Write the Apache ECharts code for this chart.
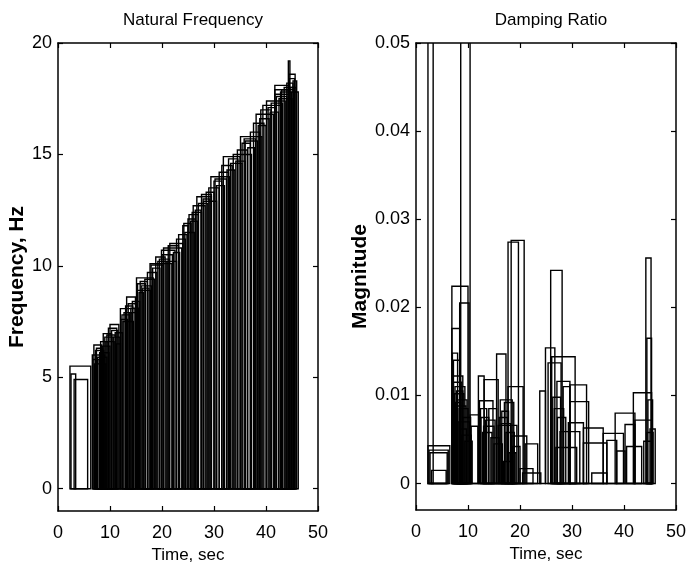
<!DOCTYPE html>
<html>
<head>
<meta charset="utf-8">
<script src="https://cdn.jsdelivr.net/npm/echarts@6/dist/echarts.min.js"></script>
<style>
  html, body { margin: 0; padding: 0; background: #fff; }
  #chart { width: 697px; height: 569px; }
</style>
</head>
<body>
<div id="chart"></div>
<script>
// Natural frequency boxes: start time, end time, frequency (Hz)
var freqStart = [2.3, 2.5, 3.1, 6.6, 6.9, 7.2, 7.6, 8.0, 8.7, 9.0, 9.4, 10.0, 10.3, 11.0,
    12.0, 12.3, 12.7, 13.2, 13.5, 14.0, 15.1, 15.3, 15.8, 16.3, 17.7, 17.9, 18.8, 19.2,
    19.9, 20.3, 21.5, 22.2, 24.0, 24.4, 25.2, 25.5, 26.0, 26.4, 26.7, 27.6, 28.0, 29.4,
    30.0, 30.5, 31.8, 32.5, 33.7, 34.2, 35.1, 35.8, 36.5, 38.1, 38.5, 39.4, 40.1, 40.8,
    41.7, 41.7, 41.7, 42.5, 43.0, 44.3, 44.4, 44.6, 44.9, 45.2,
    6.7, 7.0, 7.4, 8.2, 8.5, 9.2, 9.7, 10.6, 11.2, 12.1, 12.5, 13.0, 13.8, 14.3,
    15.2, 15.6, 16.0, 16.7, 17.2, 18.2, 19.5, 20.0, 20.8, 21.2, 22.8, 23.2, 24.2, 25.0,
    25.8, 27.0, 27.9, 28.5, 29.0, 30.2, 31.0, 31.5, 32.8, 33.2, 34.5, 35.4, 36.0, 37.0,
    37.6, 38.8, 39.0, 40.4, 41.0, 42.0, 42.8, 43.5, 44.0, 44.5];
var freqEnd = [6.3, 3.4, 5.7, 9.0, 8.4, 8.8, 9.4, 9.8, 10.3, 10.6, 11.0, 11.7, 11.5, 12.4,
    14.8, 13.8, 14.2, 14.9, 15.3, 15.5, 18.3, 16.8, 17.2, 17.5, 21.9, 20.2, 20.6, 21.0,
    22.5, 23.8, 24.0, 23.4, 25.0, 26.2, 27.0, 26.8, 28.3, 27.5, 29.5, 29.5, 30.5, 33.0,
    31.5, 32.0, 35.0, 34.0, 37.2, 36.0, 39.2, 38.0, 37.8, 41.4, 40.0, 43.0, 43.7, 42.4,
    44.3, 44.3, 44.3, 45.0, 45.3, 44.6, 45.6, 45.8, 46.2, 45.9,
    7.9, 9.2, 8.6, 9.6, 10.0, 10.8, 11.3, 11.9, 12.0, 13.4, 14.5, 14.4, 15.0, 15.7,
    17.8, 16.4, 18.0, 18.6, 19.0, 19.6, 21.4, 22.0, 22.8, 23.2, 24.5, 24.8, 25.6, 26.4,
    27.6, 28.8, 29.2, 30.0, 31.0, 32.4, 32.8, 33.5, 34.6, 35.4, 36.4, 37.0, 38.4, 38.8,
    39.6, 40.6, 41.0, 42.0, 43.2, 44.0, 44.8, 45.4, 45.2, 45.5];
var freqValue = [5.5, 5.15, 4.9, 6.0, 6.45, 6.2, 5.9, 6.1, 6.96, 6.8, 6.9, 7.37, 7.1, 7.0,
    8.08, 7.8, 7.9, 8.6, 8.3, 8.1, 9.46, 9.2, 9.3, 9.0, 10.1, 10.04, 10.4, 10.2,
    10.7, 10.8, 11.0, 10.6, 11.8, 11.5, 12.3, 12.0, 12.7, 12.5, 13.1, 13.2, 12.9, 14.0,
    13.8, 13.6, 14.9, 14.3, 15.0, 14.7, 15.8, 15.7, 15.3, 16.8, 16.3, 17.2, 17.4, 16.9,
    18.1, 17.9, 17.7, 17.5, 17.9, 19.2, 18.6, 18.0, 17.8, 18.3,
    5.8, 5.6, 6.3, 6.6, 6.4, 6.6, 7.2, 6.8, 6.5, 7.6, 7.5, 8.2, 7.9, 8.4,
    8.9, 8.8, 9.1, 9.4, 9.7, 9.9, 10.3, 10.5, 10.2, 10.9, 11.2, 11.4, 11.9, 12.1,
    12.4, 12.8, 13.0, 13.3, 13.5, 13.9, 14.2, 14.5, 14.8, 14.6, 15.2, 15.5, 15.6, 16.0,
    16.4, 16.6, 17.0, 17.1, 17.3, 17.6, 17.8, 18.0, 18.2, 18.4];

// Damping ratio boxes: start time, end time, magnitude
var dampStart = [2.3, 8.6, 2.3, 2.5, 2.7, 3.0, 6.9, 8.4, 6.9, 7.0, 7.2, 7.0, 7.5, 7.8, 8.0,
    8.3, 9.0, 10.4, 10.6, 12.0, 13.1, 12.2, 12.5, 13.0, 14.0, 15.5, 15.8, 16.2, 16.5, 17.0,
    17.7, 18.4, 17.7, 18.3, 16.8, 21.0, 20.0, 20.5, 23.8, 24.9, 25.4, 26.1, 27.1, 28.3,
    25.9, 29.6, 29.6, 26.9, 29.3, 27.7, 32.2, 32.2, 33.8, 36.0, 36.7, 38.3, 38.6, 40.2,
    40.5, 41.8, 42.1, 44.4, 44.4, 44.2, 45.0,
    7.2, 7.4, 7.6, 7.9, 8.1, 8.5, 8.8, 9.4, 12.4, 12.8, 13.4, 14.4, 15.0, 16.0, 16.4,
    17.3, 17.9, 18.6, 26.3, 26.6, 27.2, 43.8, 44.6];
var dampEnd = [3.3, 10.4, 6.5, 6.2, 6.0, 5.8, 10.0, 10.2, 8.4, 8.0, 8.5, 9.0, 9.4, 9.0, 9.8,
    10.0, 10.5, 12.1, 11.9, 13.1, 15.8, 14.8, 14.0, 15.0, 15.5, 17.3, 19.4, 18.5, 17.8, 18.8,
    20.6, 21.3, 19.7, 20.8, 18.6, 23.4, 22.5, 24.0, 24.9, 26.7, 27.9, 30.6, 29.6, 29.6,
    28.1, 32.8, 33.2, 30.9, 32.2, 31.5, 36.0, 36.7, 36.7, 39.9, 38.6, 42.1, 40.2, 42.1,
    43.4, 45.3, 45.3, 45.3, 45.6, 45.2, 46.0,
    8.8, 9.2, 8.6, 9.6, 10.3, 9.7, 10.6, 10.8, 13.6, 14.6, 15.2, 16.0, 16.6, 17.6, 18.2,
    18.9, 19.2, 20.0, 27.8, 28.4, 28.8, 45.4, 45.5];
var dampValue = [0.08, 0.08, 0.0043, 0.0038, 0.0035, 0.0015, 0.0224, 0.0205, 0.0176, 0.0148,
    0.014, 0.0122, 0.011, 0.0105, 0.0095, 0.0085, 0.0075, 0.0078, 0.0065, 0.0122, 0.0118,
    0.0094, 0.0075, 0.0065, 0.0085, 0.0147, 0.0066, 0.0095, 0.0082, 0.0092, 0.011, 0.0054,
    0.0274, 0.0276, 0.0025, 0.0045, 0.0017, 0.0012, 0.0105, 0.0154, 0.0137, 0.0144, 0.0116,
    0.011, 0.0242, 0.0112, 0.0093, 0.0041, 0.0069, 0.0059, 0.0063, 0.0046, 0.0012, 0.0057,
    0.0049, 0.008, 0.0037, 0.0067, 0.0042, 0.0103, 0.0072, 0.0165, 0.0058, 0.0256, 0.0062,
    0.0115, 0.0102, 0.0092, 0.0088, 0.007, 0.0062, 0.0055, 0.0048, 0.0085, 0.0058, 0.0072,
    0.0052, 0.0045, 0.0075, 0.0068, 0.0058, 0.0035, 0.0042, 0.0098, 0.0085, 0.0075, 0.0048,
    0.0095];

var freqTicks = [0, 5, 10, 15, 20];
var dampTicks = [0, 0.01, 0.02, 0.03, 0.04, 0.05];

function zip(a, b, c) {
    var out = [];
    for (var i = 0; i < a.length; i++) {
        out.push([a[i], b[i], c[i]]);
    }
    return out;
}

// each box is drawn from the zero line up to its value
function renderBox(params, api) {
    var p0 = api.coord([api.value(0), 0]);
    var p1 = api.coord([api.value(1), api.value(2)]);
    return {
        type: 'rect',
        shape: { x: p0[0], y: p1[1], width: p1[0] - p0[0], height: p0[1] - p1[1] },
        style: { fill: 'none', stroke: '#000', lineWidth: 1.4 }
    };
}

var font = 'Liberation Sans, Arial, sans-serif';

function xAx(grid, pos, labels) {
    return {
        type: 'value', gridIndex: grid, position: pos, min: 0, max: 50, interval: 10,
        axisLine: { show: true, onZero: false, lineStyle: { color: '#000', width: 1.5 } },
        axisTick: { show: true, inside: true, length: 5, lineStyle: { color: '#000', width: 1.2 } },
        axisLabel: { show: labels, color: '#000', fontSize: 18, fontFamily: font, margin: 13 },
        splitLine: { show: false },
        name: labels ? 'Time, sec' : '',
        nameLocation: 'middle', nameGap: 36,
        nameTextStyle: { color: '#000', fontSize: 17, fontFamily: font }
    };
}

function yAx(grid, pos, min, max, ticks, labels, name, gap) {
    return {
        type: 'value', gridIndex: grid, position: pos, min: min, max: max,
        axisLine: { show: true, onZero: false, lineStyle: { color: '#000', width: 1.5 } },
        axisTick: { show: true, inside: true, length: 5, customValues: ticks,
            lineStyle: { color: '#000', width: 1.2 } },
        axisLabel: { show: labels, customValues: ticks, color: '#000', fontSize: 18,
            fontFamily: font, margin: 6 },
        splitLine: { show: false },
        name: labels ? name : '',
        nameLocation: 'middle', nameGap: gap,
        nameTextStyle: { color: '#000', fontSize: 21, fontWeight: 'bold', fontFamily: font }
    };
}

var chart = echarts.init(document.getElementById('chart'));
chart.setOption({
    backgroundColor: '#fff',
    animation: false,
    title: [
        { text: 'Natural Frequency', left: 188, top: 7, textAlign: 'center',
          textStyle: { color: '#000', fontSize: 17, fontWeight: 'normal', fontFamily: font } },
        { text: 'Damping Ratio', left: 546, top: 7, textAlign: 'center',
          textStyle: { color: '#000', fontSize: 17, fontWeight: 'normal', fontFamily: font } }
    ],
    grid: [
        { left: 58, top: 43, width: 260, height: 469, show: false },
        { left: 416, top: 43, width: 260, height: 467, show: false }
    ],
    xAxis: [
        xAx(0, 'bottom', true),
        xAx(0, 'top', false),
        xAx(1, 'bottom', true),
        xAx(1, 'top', false)
    ],
    yAxis: [
        yAx(0, 'left', -1, 20, freqTicks, true, 'Frequency, Hz', 23),
        yAx(0, 'right', -1, 20, freqTicks, false, '', 0),
        yAx(1, 'left', -0.003, 0.05, dampTicks, true, 'Magnitude', 38),
        yAx(1, 'right', -0.003, 0.05, dampTicks, false, '', 0)
    ],
    series: [
        {
            type: 'custom', name: 'Natural Frequency', xAxisIndex: 0, yAxisIndex: 0,
            renderItem: renderBox, clip: true,
            encode: { x: [0, 1], y: 2 },
            data: zip(freqStart, freqEnd, freqValue)
        },
        {
            type: 'custom', name: 'Damping Ratio', xAxisIndex: 2, yAxisIndex: 2,
            renderItem: renderBox, clip: true,
            encode: { x: [0, 1], y: 2 },
            data: zip(dampStart, dampEnd, dampValue)
        }
    ]
});
</script>
</body>
</html>
